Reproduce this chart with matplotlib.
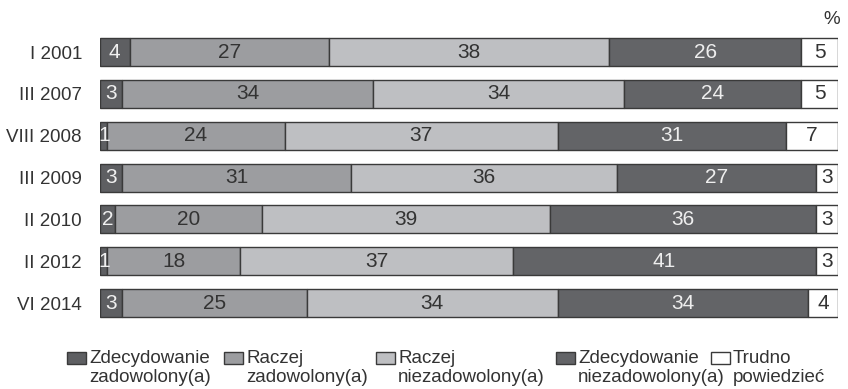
import matplotlib.pyplot as plt
from matplotlib.patches import Rectangle
import numpy as np

plt.rcParams['font.family'] = ['Liberation Sans', 'DejaVu Sans']

periods = ['I 2001', 'III 2007', 'VIII 2008', 'III 2009', 'II 2010', 'II 2012', 'VI 2014']
zdecyd_zad = [4, 3, 1, 3, 2, 1, 3]
raczej_zad = [27, 34, 24, 31, 20, 18, 25]
raczej_niezad = [38, 34, 37, 36, 39, 37, 34]
zdecyd_niezad = [26, 24, 31, 27, 36, 41, 34]
trudno = [5, 5, 7, 3, 3, 3, 4]

labels = ['Zdecydowanie\nzadowolony(a)', 'Raczej\nzadowolony(a)', 'Raczej\nniezadowolony(a)',
          'Zdecydowanie\nniezadowolony(a)', 'Trudno\npowiedzieć']
colors = ['#5e5f62', '#9c9da0', '#bebfc2', '#636467', '#ffffff']
text_colors = ['#f0f0f0', '#333333', '#333333', '#eeeeee', '#333333']

series = [zdecyd_zad, raczej_zad, raczej_niezad, zdecyd_niezad, trudno]

fig = plt.figure(figsize=(8.48, 3.89), dpi=100)
ax = fig.add_axes([100 / 848, 0.1673, 738 / 848, 0.7527])

y = np.arange(len(periods))
left = np.zeros(len(periods))
for vals, col, tcol in zip(series, colors, text_colors):
    vals = np.array(vals, dtype=float)
    ax.barh(y, vals, left=left, height=0.67, color=col, edgecolor='#3a3a3a', linewidth=1.0)
    for yi, l, v in zip(y, left, vals):
        ax.text(l + v / 2, yi, f'{int(v)}', ha='center', va='center',
                fontsize=15, color=tcol)
    left += vals

ax.set_xlim(0, 100)
ax.set_ylim(6.5, -0.5)
ax.set_yticks(y)
ax.set_yticklabels(periods, fontsize=13.5, color='#333333')
ax.tick_params(axis='y', length=0, pad=13)
ax.set_xticks([])
for s in ax.spines.values():
    s.set_visible(False)

fig.text(832 / 848, 1 - 20 / 389, '%', ha='center', va='center', fontsize=13.5,
         color='#333333')

# legend drawn by hand along the bottom
legend_x = [67, 224, 376, 556, 711]
for lx, lab, col in zip(legend_x, labels, colors):
    fig.patches.append(Rectangle((lx / 848, 1 - 364 / 389), 19 / 848, 12 / 389,
                                 transform=fig.transFigure, facecolor=col,
                                 edgecolor='#3a3a3a', linewidth=1.0))
    fig.text((lx + 22) / 848, 1 - 368 / 389, lab, ha='left', va='center',
             fontsize=13.5, color='#333333', linespacing=1.1)

fig.savefig('out.png', dpi=100)
